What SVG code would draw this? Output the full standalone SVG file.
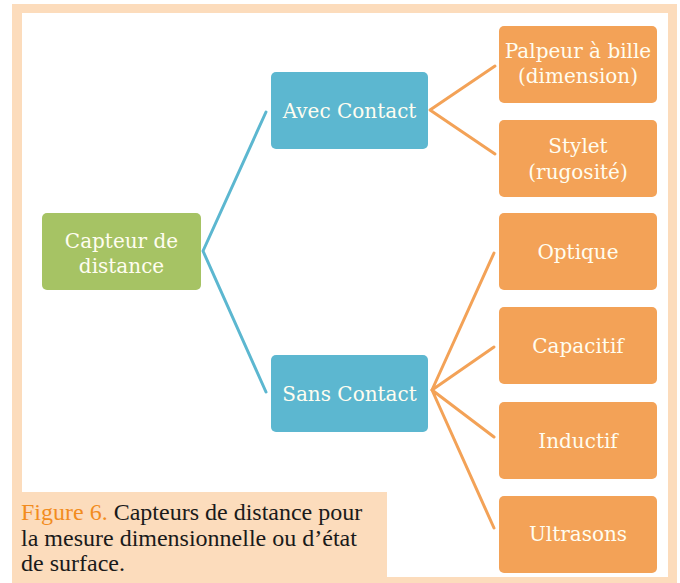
<svg xmlns="http://www.w3.org/2000/svg" width="680" height="583" viewBox="0 0 680 583">
<style>
.frame{fill:#FCDCBC}
.g{fill:#A6C364}
.b{fill:#5CB7D0}
.o{fill:#F3A257}
.t{font-size:20px;fill:#FFFDF0;text-anchor:middle}
.bl{stroke:#5CB7D0;stroke-width:3;fill:none;stroke-linecap:round;stroke-linejoin:round}
.ol{stroke:#F3A257;stroke-width:3;fill:none;stroke-linecap:round;stroke-linejoin:round}
.cap{font-size:24px;fill:#1a1a1a}
</style>
<rect x="0" y="0" width="680" height="583" fill="#ffffff"/>
<rect class="frame" x="12" y="4" width="665" height="579"/>
<rect x="22" y="13" width="646" height="564" fill="#ffffff"/>
<g id="connectors">
<polyline class="bl" points="266,112 203,251 266,392"/>
<polyline class="ol" points="495,66 430,110 495,154"/>
<polyline class="ol" points="494,253 432,390 494,347"/>
<polyline class="ol" points="494,437 432,390 494,528"/>
</g>
<g font-family="DejaVu Serif, serif">
<g id="capteur"><rect class="g" x="42" y="213" width="159" height="77" rx="5"/><text class="t" x="121.5" y="248">Capteur de</text><text class="t" x="121.5" y="273">distance</text></g>
<g id="avec"><rect class="b" x="271" y="72" width="157" height="77" rx="5"/><text class="t" x="349.5" y="118">Avec Contact</text></g>
<g id="sans"><rect class="b" x="271" y="355" width="157" height="77" rx="5"/><text class="t" x="349.5" y="401">Sans Contact</text></g>
<g id="palpeur"><rect class="o" x="499" y="26" width="158" height="77" rx="5"/><text class="t" x="578" y="58">Palpeur à bille</text><text class="t" x="578" y="83">(dimension)</text></g>
<g id="stylet"><rect class="o" x="499" y="120" width="158" height="77" rx="5"/><text class="t" x="578" y="153">Stylet</text><text class="t" x="578" y="179">(rugosité)</text></g>
<g id="optique"><rect class="o" x="499" y="213" width="158" height="77" rx="5"/><text class="t" x="578" y="259">Optique</text></g>
<g id="capacitif"><rect class="o" x="499" y="307" width="158" height="77" rx="5"/><text class="t" x="578" y="353">Capacitif</text></g>
<g id="inductif"><rect class="o" x="499" y="402" width="158" height="77" rx="5"/><text class="t" x="578" y="448">Inductif</text></g>
<g id="ultrasons"><rect class="o" x="499" y="496" width="158" height="77" rx="5"/><text class="t" x="578" y="541">Ultrasons</text></g>
</g>
<g id="caption" font-family="Liberation Serif, serif">
<rect class="frame" x="12" y="492" width="375" height="91"/>
<text class="cap" x="21" y="520"><tspan fill="#F28C1E">Figure 6.</tspan> Capteurs de distance pour</text>
<text class="cap" x="21" y="546">la mesure dimensionnelle ou d’état</text>
<text class="cap" x="21" y="571">de surface.</text>
</g>
</svg>
